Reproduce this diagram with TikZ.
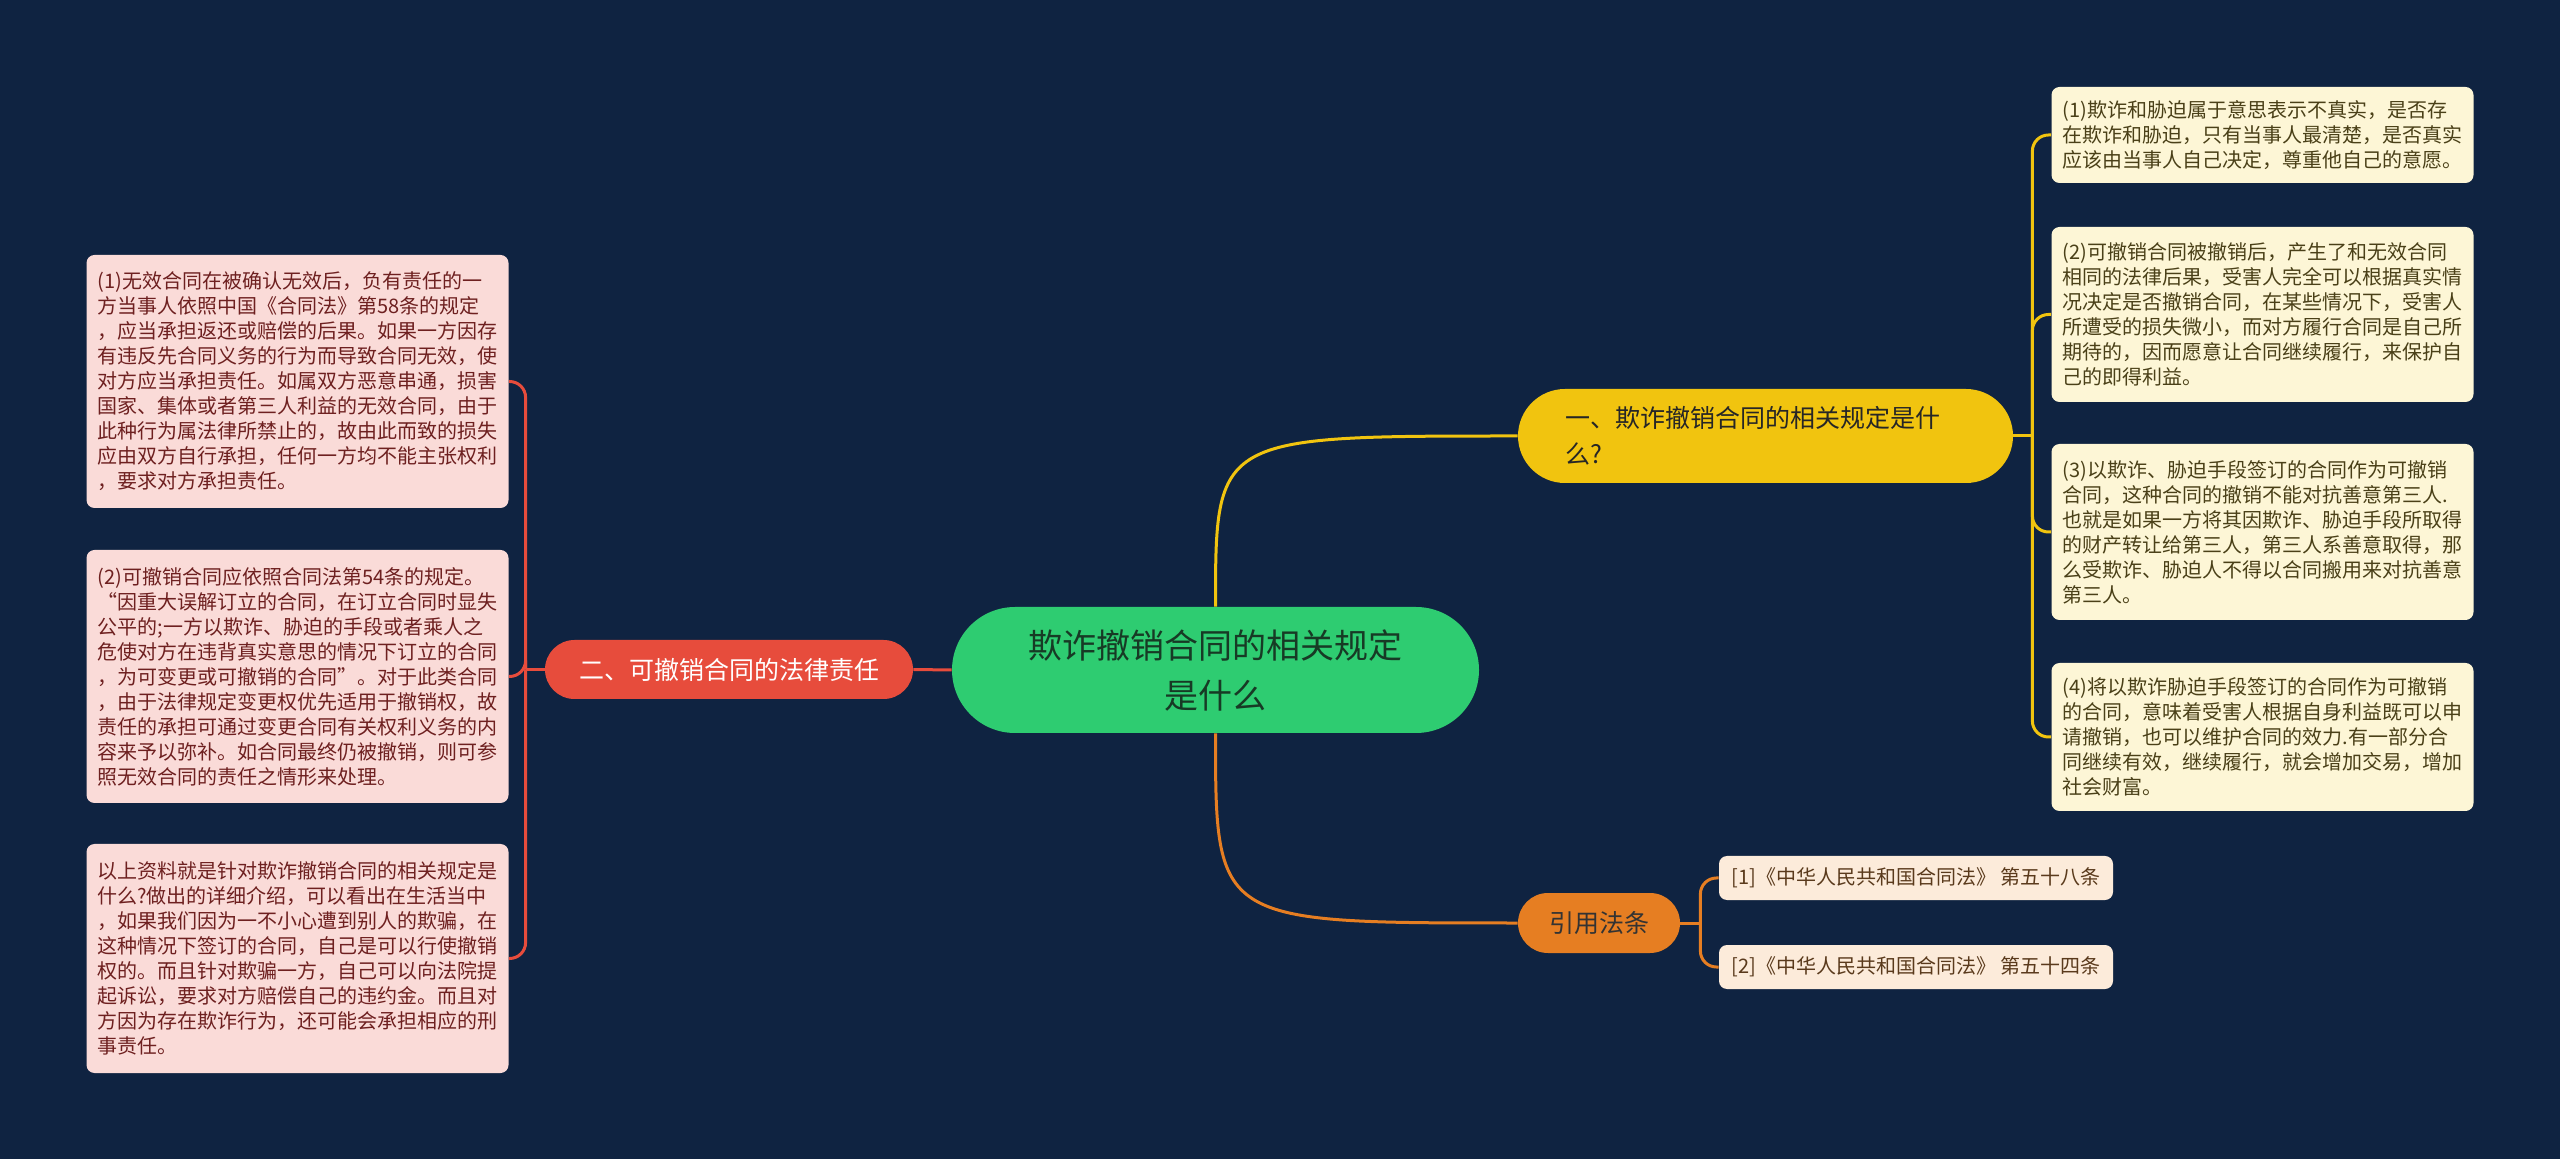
\documentclass[tikz,border=0pt]{standalone}
\usepackage{fontspec}
\setmainfont{Noto Sans CJK SC}
\usepackage{tikz}

\definecolor{bgcol}{HTML}{0F2341}
\definecolor{maingreen}{HTML}{2ECC71}
\definecolor{maintext}{HTML}{173A25}
\definecolor{topyellow}{HTML}{F1C40F}
\definecolor{midred}{HTML}{E74C3C}
\definecolor{lowor}{HTML}{E67E22}
\definecolor{creamleaf}{HTML}{FDF6D6}
\definecolor{creamtext}{HTML}{4A4018}
\definecolor{pinkleaf}{HTML}{FADBD8}
\definecolor{pinktext}{HTML}{6E2020}
\definecolor{citeleaf}{HTML}{FCEBDA}
\definecolor{citetext}{HTML}{5A3A1C}

\tikzset{
  leafbox/.style={rounded corners=4pt, inner sep=0pt, align=left,
    text width=200pt, minimum width=211pt,
    font=\fontsize{10}{12.5}\selectfont},
  yleaf/.style={leafbox, fill=creamleaf, text=creamtext},
  pleaf/.style={leafbox, fill=pinkleaf, text=pinktext},
  cleaf/.style={rounded corners=4pt, inner sep=0pt, fill=citeleaf, text=citetext,
    minimum width=197pt, minimum height=22pt, font=\fontsize{10}{12.5}\selectfont},
  topic/.style={inner sep=0pt, font=\fontsize{12.5}{18}\selectfont},
  ylink/.style={draw=topyellow, line width=1.5pt, rounded corners=8pt},
  rlink/.style={draw=midred, line width=1.5pt, rounded corners=8pt},
  olink/.style={draw=lowor, line width=1.5pt, rounded corners=8pt}
}

\begin{document}
\begin{tikzpicture}[x=0.5pt, y=-0.5pt]
  \fill[bgcol] (0,0) rectangle (2560,1159);
  \useasboundingbox (0,0) rectangle (2560,1159);

  \node[fill=maingreen, text=maintext, rounded corners=31.5pt, inner sep=0pt,
    minimum width=263.5pt, minimum height=63pt, align=center,
    font=\fontsize{17}{25}\selectfont] (root) at (1215.5,670)
    {欺诈撤销合同的相关规定\\是什么};

  \node[topic, fill=topyellow, text=black!85, rounded corners=23.5pt,
    minimum width=247.5pt, minimum height=47pt, text width=200pt, align=left]
    (b1) at (1765.5,436) {一、欺诈撤销合同的相关规定是什\\么?};
  \node[topic, fill=midred, text=white, rounded corners=14.75pt,
    minimum width=184pt, minimum height=29.5pt] (b2) at (729,669.5)
    {二、可撤销合同的法律责任};
  \node[topic, fill=lowor, text=black!80, rounded corners=15pt,
    minimum width=81pt, minimum height=30pt] (b3) at (1599,923) {引用法条};

  \node[yleaf, minimum height=48pt] (r1) at (2262.5,135)
    {(1)欺诈和胁迫属于意思表示不真实，是否存\\
     在欺诈和胁迫，只有当事人最清楚，是否真实\\
     应该由当事人自己决定，尊重他自己的意愿。};
  \node[yleaf, minimum height=87.5pt] (r2) at (2262.5,314.5)
    {(2)可撤销合同被撤销后，产生了和无效合同\\
     相同的法律后果，受害人完全可以根据真实情\\
     况决定是否撤销合同，在某些情况下，受害人\\
     所遭受的损失微小，而对方履行合同是自己所\\
     期待的，因而愿意让合同继续履行，来保护自\\
     己的即得利益。};
  \node[yleaf, minimum height=88pt] (r3) at (2262.5,532)
    {(3)以欺诈、胁迫手段签订的合同作为可撤销\\
     合同，这种合同的撤销不能对抗善意第三人.\\
     也就是如果一方将其因欺诈、胁迫手段所取得\\
     的财产转让给第三人，第三人系善意取得，那\\
     么受欺诈、胁迫人不得以合同搬用来对抗善意\\
     第三人。};
  \node[yleaf, minimum height=74pt] (r4) at (2262.5,737)
    {(4)将以欺诈胁迫手段签订的合同作为可撤销\\
     的合同，意味着受害人根据自身利益既可以申\\
     请撤销，也可以维护合同的效力.有一部分合\\
     同继续有效，继续履行，就会增加交易，增加\\
     社会财富。};

  \node[pleaf, minimum height=126.5pt] (l1) at (297.5,381.5)
    {(1)无效合同在被确认无效后，负有责任的一\\
     方当事人依照中国《合同法》第58条的规定\\
     ，应当承担返还或赔偿的后果。如果一方因存\\
     有违反先合同义务的行为而导致合同无效，使\\
     对方应当承担责任。如属双方恶意串通，损害\\
     国家、集体或者第三人利益的无效合同，由于\\
     此种行为属法律所禁止的，故由此而致的损失\\
     应由双方自行承担，任何一方均不能主张权利\\
     ，要求对方承担责任。};
  \node[pleaf, minimum height=126.5pt] (l2) at (297.5,676.5)
    {(2)可撤销合同应依照合同法第54条的规定。\\
     “因重大误解订立的合同，在订立合同时显失\\
     公平的;一方以欺诈、胁迫的手段或者乘人之\\
     危使对方在违背真实意思的情况下订立的合同\\
     ，为可变更或可撤销的合同”。对于此类合同\\
     ，由于法律规定变更权优先适用于撤销权，故\\
     责任的承担可通过变更合同有关权利义务的内\\
     容来予以弥补。如合同最终仍被撤销，则可参\\
     照无效合同的责任之情形来处理。};
  \node[pleaf, minimum height=114.5pt] (l3) at (297.5,958.5)
    {以上资料就是针对欺诈撤销合同的相关规定是\\
     什么?做出的详细介绍，可以看出在生活当中\\
     ，如果我们因为一不小心遭到别人的欺骗，在\\
     这种情况下签订的合同，自己是可以行使撤销\\
     权的。而且针对欺骗一方，自己可以向法院提\\
     起诉讼，要求对方赔偿自己的违约金。而且对\\
     方因为存在欺诈行为，还可能会承担相应的刑\\
     事责任。};

  \node[cleaf] (c1) at (1916,878) {[1]《中华人民共和国合同法》 第五十八条};
  \node[cleaf] (c2) at (1916,967) {[2]《中华人民共和国合同法》 第五十四条};

  \draw[ylink] (root.north) .. controls (root.north |- b1.west) .. (b1.west);
  \draw[rlink] (root.west) -- (b2.east);
  \draw[olink] (root.south) .. controls (root.south |- b3.west) .. (b3.west);

  \coordinate (j1) at ([xshift=9.5pt]b1.east);
  \coordinate (j2) at ([xshift=-9.5pt]b2.west);
  \coordinate (j3) at ([xshift=10pt]b3.east);
  \draw[ylink] (b1.east) -- (j1);
  \draw[rlink] (b2.west) -- (j2);
  \draw[olink] (b3.east) -- (j3);
  \foreach \r in {r1,r2,r3,r4} \draw[ylink] (j1) |- (\r.west);
  \foreach \l in {l1,l2,l3} \draw[rlink] (j2) |- (\l.east);
  \foreach \c in {c1,c2} \draw[olink] (j3) |- (\c.west);
\end{tikzpicture}
\end{document}
